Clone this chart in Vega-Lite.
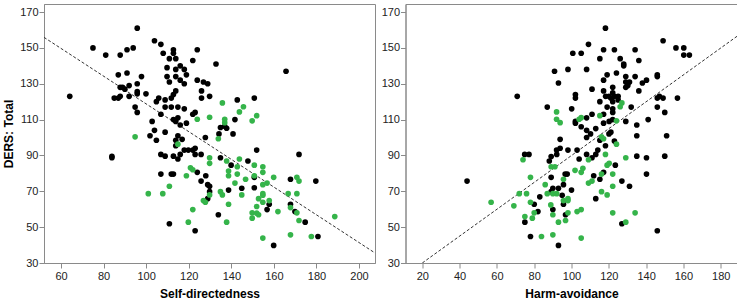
{
  "$schema": "https://vega.github.io/schema/vega-lite/v6.json",
  "padding": {"left": 2, "top": 3, "right": 2, "bottom": 2},
  "config": {
    "view": {"stroke": "#8a8a8a", "strokeWidth": 1},
    "axis": {"grid": false, "domainColor": "#8a8a8a", "tickColor": "#8a8a8a", "tickSize": 5, "labelFont": "Liberation Sans", "labelFontSize": 11, "labelColor": "#222222", "titleFont": "Liberation Sans", "titleFontSize": 12, "titleFontWeight": "bold", "titleColor": "#000000"},
    "axisX": {"labelPadding": 2, "titlePadding": 7},
    "axisY": {"labelPadding": 1, "titlePadding": 4},
    "concat": {"spacing": 4.5}
  },
  "datasets": {
    "sd": [
      {"x":64.1,"y":123,"g":"b"},{"x":75.0,"y":150,"g":"b"},{"x":81.0,"y":146,"g":"b"},{"x":87.8,"y":146,"g":"b"},{"x":91.0,"y":149,"g":"b"},{"x":93.9,"y":150,"g":"b"},{"x":95.8,"y":161,"g":"b"},{"x":86.9,"y":135,"g":"b"},{"x":91.0,"y":136,"g":"b"},{"x":97.8,"y":134,"g":"b"},
      {"x":87.8,"y":128,"g":"b"},{"x":88.9,"y":128,"g":"b"},{"x":90.0,"y":127,"g":"b"},{"x":92.0,"y":129,"g":"b"},{"x":95.8,"y":130,"g":"b"},{"x":85.0,"y":122,"g":"b"},{"x":86.9,"y":122,"g":"b"},{"x":87.8,"y":123,"g":"b"},{"x":92.0,"y":123,"g":"b"},{"x":95.8,"y":125.6,"g":"b"},
      {"x":95.8,"y":124.4,"g":"b"},{"x":99.9,"y":124.4,"g":"b"},{"x":94.8,"y":117,"g":"b"},{"x":95.8,"y":114,"g":"b"},{"x":103.9,"y":154,"g":"b"},{"x":106.9,"y":152,"g":"b"},{"x":108.0,"y":147,"g":"b"},{"x":112.8,"y":149,"g":"b"},{"x":112.8,"y":147,"g":"b"},{"x":110.9,"y":144,"g":"b"},
      {"x":113.9,"y":144,"g":"b"},{"x":109.8,"y":139,"g":"b"},{"x":113.9,"y":138,"g":"b"},{"x":116.0,"y":140,"g":"b"},{"x":117.9,"y":138,"g":"b"},{"x":118.9,"y":135,"g":"b"},{"x":109.8,"y":134,"g":"b"},{"x":113.9,"y":134,"g":"b"},{"x":110.9,"y":131,"g":"b"},{"x":116.0,"y":132,"g":"b"},
      {"x":117.9,"y":130,"g":"b"},{"x":121.9,"y":143,"g":"b"},{"x":124.0,"y":149,"g":"b"},{"x":132.8,"y":141,"g":"b"},{"x":124.0,"y":132,"g":"b"},{"x":126.9,"y":131,"g":"b"},{"x":128.9,"y":130,"g":"b"},{"x":126.0,"y":126,"g":"b"},{"x":126.0,"y":122,"g":"b"},{"x":129.8,"y":123,"g":"b"},
      {"x":113.9,"y":126,"g":"b"},{"x":112.8,"y":124,"g":"b"},{"x":111.8,"y":122,"g":"b"},{"x":104.8,"y":120,"g":"b"},{"x":105.9,"y":122,"g":"b"},{"x":108.9,"y":121,"g":"b"},{"x":106.9,"y":113,"g":"b"},{"x":108.9,"y":117,"g":"b"},{"x":111.8,"y":117,"g":"b"},{"x":114.9,"y":117,"g":"b"},
      {"x":117.9,"y":116,"g":"b"},{"x":112.8,"y":110,"g":"b"},{"x":113.9,"y":109,"g":"b"},{"x":114.9,"y":111,"g":"b"},{"x":116.0,"y":107,"g":"b"},{"x":118.9,"y":108,"g":"b"},{"x":121.9,"y":113,"g":"b"},{"x":123.0,"y":114,"g":"b"},{"x":102.8,"y":109,"g":"b"},{"x":103.9,"y":104,"g":"b"},
      {"x":101.8,"y":101,"g":"b"},{"x":104.8,"y":98.5,"g":"b"},{"x":108.9,"y":103,"g":"b"},{"x":114.9,"y":101,"g":"b"},{"x":116.9,"y":99,"g":"b"},{"x":113.9,"y":98.5,"g":"b"},{"x":113.9,"y":95.4,"g":"b"},{"x":117.9,"y":93,"g":"b"},{"x":119.8,"y":93,"g":"b"},{"x":121.9,"y":93,"g":"b"},
      {"x":123.0,"y":94,"g":"b"},{"x":127.8,"y":100,"g":"b"},{"x":134.2,"y":102,"g":"b"},{"x":134.9,"y":105.6,"g":"b"},{"x":136.9,"y":106.3,"g":"b"},{"x":137.8,"y":105.2,"g":"b"},{"x":140.8,"y":102,"g":"b"},{"x":141.7,"y":110,"g":"b"},{"x":142.8,"y":121,"g":"b"},{"x":150.8,"y":122,"g":"b"},
      {"x":151.9,"y":93,"g":"b"},{"x":165.7,"y":137,"g":"b"},{"x":83.9,"y":89.5,"g":"b"},{"x":83.9,"y":88.7,"g":"b"},{"x":106.9,"y":90.6,"g":"b"},{"x":108.9,"y":89.6,"g":"b"},{"x":112.8,"y":89.6,"g":"b"},{"x":114.9,"y":88,"g":"b"},{"x":116.0,"y":90.6,"g":"b"},{"x":123.0,"y":90.6,"g":"b"},
      {"x":125.8,"y":90.6,"g":"b"},{"x":134.9,"y":88.7,"g":"b"},{"x":139.9,"y":84.6,"g":"b"},{"x":147.8,"y":86.9,"g":"b"},{"x":171.8,"y":90.6,"g":"b"},{"x":106.9,"y":79.6,"g":"b"},{"x":111.8,"y":79.6,"g":"b"},{"x":112.8,"y":79.6,"g":"b"},{"x":124.0,"y":80.6,"g":"b"},{"x":128.0,"y":78.7,"g":"b"},
      {"x":125.8,"y":75.7,"g":"b"},{"x":128.9,"y":73.7,"g":"b"},{"x":129.8,"y":72.8,"g":"b"},{"x":129.8,"y":69.8,"g":"b"},{"x":128.9,"y":65.9,"g":"b"},{"x":138.7,"y":70.7,"g":"b"},{"x":144.9,"y":71.7,"g":"b"},{"x":150.8,"y":77.8,"g":"b"},{"x":150.8,"y":72,"g":"b"},{"x":133.9,"y":56.9,"g":"b"},
      {"x":110.9,"y":51.9,"g":"b"},{"x":123.0,"y":48,"g":"b"},{"x":157.8,"y":62.8,"g":"b"},{"x":156.8,"y":59.8,"g":"b"},{"x":167.8,"y":76.7,"g":"b"},{"x":167.8,"y":62.8,"g":"b"},{"x":169.9,"y":58.7,"g":"b"},{"x":174.7,"y":52.8,"g":"b"},{"x":179.7,"y":75.7,"g":"b"},{"x":180.7,"y":44.8,"g":"b"},
      {"x":159.9,"y":39.8,"g":"b"},
      {"x":94.8,"y":100.4,"g":"g"},{"x":114.9,"y":96.3,"g":"g"},{"x":124.0,"y":110.2,"g":"g"},{"x":129.8,"y":111.3,"g":"g"},{"x":135.8,"y":119.3,"g":"g"},{"x":136.9,"y":110.2,"g":"g"},{"x":136.9,"y":108.3,"g":"g"},{"x":133.9,"y":99.3,"g":"g"},{"x":143.8,"y":114.3,"g":"g"},{"x":145.7,"y":117.2,"g":"g"},
      {"x":149.8,"y":109.3,"g":"g"},{"x":151.9,"y":112.2,"g":"g"},{"x":101.0,"y":68.7,"g":"g"},{"x":107.8,"y":68.7,"g":"g"},{"x":110.9,"y":72.8,"g":"g"},{"x":118.9,"y":78.7,"g":"g"},{"x":120.8,"y":83.1,"g":"g"},{"x":121.9,"y":82,"g":"g"},{"x":121.9,"y":59.8,"g":"g"},{"x":119.8,"y":52.8,"g":"g"},
      {"x":126.9,"y":64.8,"g":"g"},{"x":127.8,"y":63.9,"g":"g"},{"x":129.8,"y":88.7,"g":"g"},{"x":129.8,"y":85.6,"g":"g"},{"x":129.8,"y":68,"g":"g"},{"x":134.9,"y":69.8,"g":"g"},{"x":135.8,"y":68,"g":"g"},{"x":137.8,"y":86.9,"g":"g"},{"x":138.7,"y":81.3,"g":"g"},{"x":138.7,"y":78.7,"g":"g"},
      {"x":138.7,"y":62.8,"g":"g"},{"x":141.7,"y":74.6,"g":"g"},{"x":137.8,"y":52.8,"g":"g"},{"x":142.8,"y":83.7,"g":"g"},{"x":142.8,"y":79.6,"g":"g"},{"x":143.8,"y":88,"g":"g"},{"x":144.9,"y":68,"g":"g"},{"x":146.7,"y":76.7,"g":"g"},{"x":149.8,"y":58,"g":"g"},{"x":149.8,"y":55,"g":"g"},
      {"x":150.8,"y":84.6,"g":"g"},{"x":150.8,"y":78.7,"g":"g"},{"x":151.9,"y":61.5,"g":"g"},{"x":151.9,"y":57.8,"g":"g"},{"x":152.8,"y":56.9,"g":"g"},{"x":152.8,"y":65.9,"g":"g"},{"x":154.8,"y":83.7,"g":"g"},{"x":154.8,"y":80.6,"g":"g"},{"x":154.8,"y":73.7,"g":"g"},{"x":154.8,"y":68.7,"g":"g"},
      {"x":154.8,"y":67.8,"g":"g"},{"x":154.8,"y":63.9,"g":"g"},{"x":154.8,"y":43.9,"g":"g"},{"x":156.8,"y":74.6,"g":"g"},{"x":157.8,"y":64.8,"g":"g"},{"x":159.9,"y":77.8,"g":"g"},{"x":161.9,"y":58.7,"g":"g"},{"x":166.7,"y":68.7,"g":"g"},{"x":167.8,"y":60.9,"g":"g"},{"x":167.8,"y":45.7,"g":"g"},
      {"x":170.8,"y":77.8,"g":"g"},{"x":170.8,"y":68.7,"g":"g"},{"x":170.8,"y":58,"g":"g"},{"x":171.8,"y":75.7,"g":"g"},{"x":171.8,"y":53.7,"g":"g"},{"x":177.6,"y":44.8,"g":"g"},{"x":188.6,"y":55.9,"g":"g"}
    ],
    "ha": [
      {"x":70.9,"y":123,"g":"b"},{"x":87.0,"y":117,"g":"b"},{"x":90.9,"y":137,"g":"b"},{"x":93.0,"y":130.4,"g":"b"},{"x":98.1,"y":138,"g":"b"},{"x":100.7,"y":147,"g":"b"},{"x":105.2,"y":147,"g":"b"},{"x":109.1,"y":152,"g":"b"},{"x":108.1,"y":138,"g":"b"},{"x":115.2,"y":144,"g":"b"},
      {"x":117.2,"y":149,"g":"b"},{"x":118.2,"y":161,"g":"b"},{"x":123.0,"y":149,"g":"b"},{"x":126.1,"y":144,"g":"b"},{"x":128.0,"y":141,"g":"b"},{"x":128.0,"y":140,"g":"b"},{"x":134.1,"y":149,"g":"b"},{"x":136.1,"y":143,"g":"b"},{"x":149.1,"y":154,"g":"b"},{"x":156.0,"y":150,"g":"b"},
      {"x":160.2,"y":150,"g":"b"},{"x":160.2,"y":146,"g":"b"},{"x":163.2,"y":146,"g":"b"},{"x":119.1,"y":135,"g":"b"},{"x":124.1,"y":136,"g":"b"},{"x":117.2,"y":132,"g":"b"},{"x":129.1,"y":134,"g":"b"},{"x":129.1,"y":131,"g":"b"},{"x":130.2,"y":130.4,"g":"b"},{"x":131.1,"y":131,"g":"b"},
      {"x":129.1,"y":128,"g":"b"},{"x":130.2,"y":129,"g":"b"},{"x":134.1,"y":134,"g":"b"},{"x":138.0,"y":130.4,"g":"b"},{"x":140.2,"y":132,"g":"b"},{"x":136.1,"y":126,"g":"b"},{"x":146.0,"y":135,"g":"b"},{"x":146.0,"y":134,"g":"b"},{"x":146.0,"y":122,"g":"b"},{"x":147.1,"y":123,"g":"b"},
      {"x":149.1,"y":122,"g":"b"},{"x":146.0,"y":117,"g":"b"},{"x":150.0,"y":114,"g":"b"},{"x":156.8,"y":122,"g":"b"},{"x":151.0,"y":101,"g":"b"},{"x":117.2,"y":126,"g":"b"},{"x":122.1,"y":128,"g":"b"},{"x":122.1,"y":125,"g":"b"},{"x":123.0,"y":123,"g":"b"},{"x":120.1,"y":123,"g":"b"},
      {"x":118.3,"y":123,"g":"b"},{"x":121.1,"y":122,"g":"b"},{"x":125.0,"y":123,"g":"b"},{"x":125.0,"y":121,"g":"b"},{"x":122.1,"y":120,"g":"b"},{"x":115.2,"y":120,"g":"b"},{"x":111.0,"y":127,"g":"b"},{"x":102.1,"y":124,"g":"b"},{"x":102.1,"y":122,"g":"b"},{"x":100.1,"y":116,"g":"b"},
      {"x":119.1,"y":117,"g":"b"},{"x":122.1,"y":116,"g":"b"},{"x":122.1,"y":114,"g":"b"},{"x":132.0,"y":117,"g":"b"},{"x":117.2,"y":113,"g":"b"},{"x":111.0,"y":113,"g":"b"},{"x":108.1,"y":111,"g":"b"},{"x":102.1,"y":109,"g":"b"},{"x":102.1,"y":108,"g":"b"},{"x":105.2,"y":106,"g":"b"},
      {"x":108.1,"y":104,"g":"b"},{"x":110.2,"y":102,"g":"b"},{"x":108.1,"y":100,"g":"b"},{"x":113.0,"y":105,"g":"b"},{"x":117.2,"y":108,"g":"b"},{"x":120.2,"y":109,"g":"b"},{"x":122.1,"y":110,"g":"b"},{"x":129.1,"y":109,"g":"b"},{"x":135.0,"y":107,"g":"b"},{"x":135.0,"y":101,"g":"b"},
      {"x":141.1,"y":110,"g":"b"},{"x":115.2,"y":98.5,"g":"b"},{"x":120.1,"y":102,"g":"b"},{"x":121.1,"y":103,"g":"b"},{"x":123.0,"y":98,"g":"b"},{"x":118.2,"y":95.4,"g":"b"},{"x":93.9,"y":99,"g":"b"},{"x":92.0,"y":93,"g":"b"},{"x":93.9,"y":94,"g":"b"},{"x":98.1,"y":93,"g":"b"},
      {"x":103.0,"y":93,"g":"b"},{"x":114.1,"y":93,"g":"b"},{"x":44.0,"y":75.7,"g":"b"},{"x":74.9,"y":90.6,"g":"b"},{"x":77.2,"y":90.6,"g":"b"},{"x":88.1,"y":86.9,"g":"b"},{"x":89.1,"y":89.4,"g":"b"},{"x":92.1,"y":90.6,"g":"b"},{"x":104.1,"y":88,"g":"b"},{"x":108.1,"y":90.6,"g":"b"},
      {"x":111.0,"y":88.7,"g":"b"},{"x":113.0,"y":90.6,"g":"b"},{"x":123.5,"y":84.6,"g":"b"},{"x":135.0,"y":89.6,"g":"b"},{"x":140.2,"y":88.7,"g":"b"},{"x":150.0,"y":89.6,"g":"b"},{"x":140.2,"y":79.6,"g":"b"},{"x":89.1,"y":77.8,"g":"b"},{"x":96.6,"y":79.6,"g":"b"},{"x":97.7,"y":79.6,"g":"b"},
      {"x":95.7,"y":73.7,"g":"b"},{"x":90.0,"y":71.7,"g":"b"},{"x":89.1,"y":69.8,"g":"b"},{"x":93.0,"y":71.7,"g":"b"},{"x":95.0,"y":67.8,"g":"b"},{"x":100.0,"y":70.7,"g":"b"},{"x":83.0,"y":66.9,"g":"b"},{"x":80.0,"y":62.8,"g":"b"},{"x":82.0,"y":58.7,"g":"b"},{"x":75.0,"y":52.8,"g":"b"},
      {"x":78.0,"y":44.8,"g":"b"},{"x":90.0,"y":59.8,"g":"b"},{"x":95.7,"y":62.8,"g":"b"},{"x":96.8,"y":56.9,"g":"b"},{"x":93.0,"y":39.8,"g":"b"},{"x":111.9,"y":78.7,"g":"b"},{"x":117.2,"y":80.6,"g":"b"},{"x":115.2,"y":76.7,"g":"b"},{"x":113.0,"y":65.9,"g":"b"},{"x":127.0,"y":75.7,"g":"b"},
      {"x":131.1,"y":72.8,"g":"b"},{"x":127.0,"y":51.9,"g":"b"},{"x":146.0,"y":48,"g":"b"},
      {"x":92.0,"y":114.3,"g":"g"},{"x":92.0,"y":110.2,"g":"g"},{"x":93.9,"y":108.3,"g":"g"},{"x":104.1,"y":110.2,"g":"g"},{"x":105.2,"y":111.1,"g":"g"},{"x":115.2,"y":112.2,"g":"g"},{"x":124.1,"y":109.3,"g":"g"},{"x":126.1,"y":117.2,"g":"g"},{"x":127.0,"y":119.3,"g":"g"},{"x":116.1,"y":100.4,"g":"g"},
      {"x":117.2,"y":99.3,"g":"g"},{"x":124.1,"y":96.3,"g":"g"},{"x":56.9,"y":63.9,"g":"g"},{"x":69.1,"y":61.9,"g":"g"},{"x":72.0,"y":68.7,"g":"g"},{"x":74.0,"y":87.6,"g":"g"},{"x":75.9,"y":68.7,"g":"g"},{"x":78.0,"y":77.8,"g":"g"},{"x":78.0,"y":63.9,"g":"g"},{"x":75.0,"y":55.9,"g":"g"},
      {"x":79.0,"y":55,"g":"g"},{"x":80.0,"y":58,"g":"g"},{"x":85.9,"y":73.7,"g":"g"},{"x":87.0,"y":68.7,"g":"g"},{"x":88.9,"y":62.4,"g":"g"},{"x":90.0,"y":68.7,"g":"g"},{"x":89.1,"y":83.7,"g":"g"},{"x":91.1,"y":83.7,"g":"g"},{"x":83.9,"y":44.8,"g":"g"},{"x":90.0,"y":56.9,"g":"g"},
      {"x":90.0,"y":45.7,"g":"g"},{"x":92.1,"y":68.7,"g":"g"},{"x":93.0,"y":52.8,"g":"g"},{"x":95.7,"y":76.7,"g":"g"},{"x":95.7,"y":64.8,"g":"g"},{"x":96.8,"y":53.7,"g":"g"},{"x":98.1,"y":65.9,"g":"g"},{"x":98.1,"y":64.8,"g":"g"},{"x":98.1,"y":58,"g":"g"},{"x":101.9,"y":81.7,"g":"g"},
      {"x":103.0,"y":58.7,"g":"g"},{"x":105.2,"y":59.8,"g":"g"},{"x":105.2,"y":43.9,"g":"g"},{"x":105.2,"y":80.6,"g":"g"},{"x":106.1,"y":82.8,"g":"g"},{"x":109.1,"y":74.6,"g":"g"},{"x":111.0,"y":75.7,"g":"g"},{"x":109.1,"y":87.6,"g":"g"},{"x":116.1,"y":69.8,"g":"g"},{"x":116.1,"y":79.6,"g":"g"},
      {"x":118.2,"y":90.6,"g":"g"},{"x":119.1,"y":84.6,"g":"g"},{"x":120.2,"y":85.6,"g":"g"},{"x":119.1,"y":68,"g":"g"},{"x":122.1,"y":79.6,"g":"g"},{"x":122.1,"y":72.8,"g":"g"},{"x":122.1,"y":58,"g":"g"},{"x":129.1,"y":88.7,"g":"g"},{"x":129.1,"y":52.8,"g":"g"},{"x":134.1,"y":58,"g":"g"}
    ],
    "sdLine": [{"x":52,"y":155.9},{"x":207.5,"y":35.6}],
    "haLine": [{"x":20,"y":30},{"x":188.9,"y":156.6}]
  },
  "hconcat": [
    {
      "width": 331, "height": 259,
      "layer": [
        {
          "data": {"name": "sdLine"},
          "mark": {"type": "line", "strokeDash": [3, 2], "color": "#333333", "strokeWidth": 1, "clip": true},
          "encoding": {
            "x": {"field": "x", "type": "quantitative", "scale": {"domain": [52, 207.5], "nice": false, "zero": false}, "axis": {"values": [60,80,100,120,140,160,180,200], "title": "Self-directedness"}},
            "y": {"field": "y", "type": "quantitative", "scale": {"domain": [30, 174.5], "nice": false, "zero": false}, "axis": {"values": [30,50,70,90,110,130,150,170], "title": "DERS: Total"}}
          }
        },
        {
          "data": {"name": "sd"},
          "mark": {"type": "circle", "size": 32, "opacity": 1},
          "encoding": {
            "x": {"field": "x", "type": "quantitative", "scale": {"domain": [52, 207.5], "nice": false, "zero": false}, "axis": {"values": [60,80,100,120,140,160,180,200], "title": "Self-directedness"}},
            "y": {"field": "y", "type": "quantitative", "scale": {"domain": [30, 174.5], "nice": false, "zero": false}, "axis": {"values": [30,50,70,90,110,130,150,170], "title": "DERS: Total"}},
            "color": {"field": "g", "type": "nominal", "scale": {"domain": ["b", "g"], "range": ["#000000", "#35b44a"]}, "legend": null}
          }
        }
      ]
    },
    {
      "width": 332, "height": 259,
      "layer": [
        {
          "data": {"name": "haLine"},
          "mark": {"type": "line", "strokeDash": [3, 2], "color": "#333333", "strokeWidth": 1, "clip": true},
          "encoding": {
            "x": {"field": "x", "type": "quantitative", "scale": {"domain": [11, 189], "nice": false, "zero": false}, "axis": {"values": [20,40,60,80,100,120,140,160,180], "title": "Harm-avoidance"}},
            "y": {"field": "y", "type": "quantitative", "scale": {"domain": [30, 174.5], "nice": false, "zero": false}, "axis": {"values": [30,50,70,90,110,130,150,170], "title": null}}
          }
        },
        {
          "data": {"name": "ha"},
          "mark": {"type": "circle", "size": 32, "opacity": 1},
          "encoding": {
            "x": {"field": "x", "type": "quantitative", "scale": {"domain": [11, 189], "nice": false, "zero": false}, "axis": {"values": [20,40,60,80,100,120,140,160,180], "title": "Harm-avoidance"}},
            "y": {"field": "y", "type": "quantitative", "scale": {"domain": [30, 174.5], "nice": false, "zero": false}, "axis": {"values": [30,50,70,90,110,130,150,170], "title": null}},
            "color": {"field": "g", "type": "nominal", "scale": {"domain": ["b", "g"], "range": ["#000000", "#35b44a"]}, "legend": null}
          }
        }
      ]
    }
  ]
}
